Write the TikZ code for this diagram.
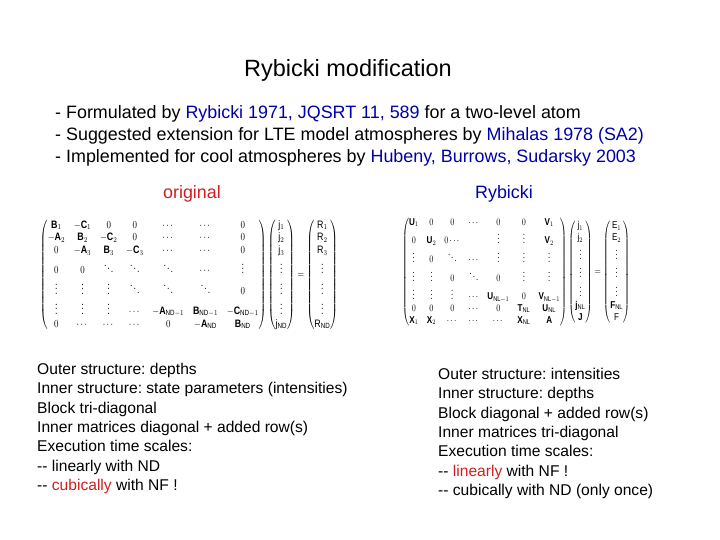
\documentclass[tikz,border=0pt]{standalone}
\usepackage{amsmath}
\usepackage{fontspec}
\setmainfont{Liberation Sans}
\usepackage{graphicx}
\definecolor{rblue}{RGB}{0,0,170}
\definecolor{rred}{RGB}{210,30,30}
\newcommand{\Bf}[1]{\mathbf{#1}}
\frenchspacing
\begin{document}
\begin{tikzpicture}[x=1pt,y=-1pt,
  txt/.style={anchor=west,inner sep=0pt,font=\fontsize{17.9pt}{20pt}\selectfont},
  body/.style={anchor=north west,inner sep=0pt,align=left,font=\fontsize{15.6pt}{19.3pt}\selectfont}]
\useasboundingbox (0,0) rectangle (720,540);
\node[inner sep=0pt,font=\fontsize{23.5pt}{26pt}\selectfont] (title) at (348,70) {Rybicki modification};
\node[txt] (b1) at (55,114) {- Formulated by \textcolor{rblue}{Rybicki 1971, JQSRT 11, 589} for a two-level atom};
\node[txt] (b2) at (55,136) {- Suggested extension for LTE model atmospheres by \textcolor{rblue}{Mihalas 1978 (SA2)}};
\node[txt] (b3) at (55,158) {- Implemented for cool atmospheres by \textcolor{rblue}{Hubeny, Burrows, Sudarsky 2003}};
\node[inner sep=0pt,text=rred,font=\fontsize{17.9pt}{20pt}\selectfont] (orig) at (192,194) {original};
\node[inner sep=0pt,text=rblue,font=\fontsize{17.9pt}{20pt}\selectfont] (ryb) at (504,194) {Rybicki};
\node[inner sep=0pt] (m1) at (189,275) {\resizebox*{298pt}{112pt}{$
\begin{pmatrix}
\Bf B_1 & -\Bf C_1 & 0 & 0 & \cdots & \cdots & 0\\
-\Bf A_2 & \Bf B_2 & -\Bf C_2 & 0 & \cdots & \cdots & 0\\
0 & -\Bf A_3 & \Bf B_3 & -\Bf C_3 & \cdots & \cdots & 0\\
0 & 0 & \ddots & \ddots & \ddots & \cdots & \vdots\\
\vdots & \vdots & \vdots & \ddots & \ddots & \ddots & 0\\
\vdots & \vdots & \vdots & \cdots & -\Bf A_{\mathrm{ND}-1} & \Bf B_{\mathrm{ND}-1} & -\Bf C_{\mathrm{ND}-1}\\
0 & \cdots & \cdots & \cdots & 0 & -\Bf A_{\mathrm{ND}} & \Bf B_{\mathrm{ND}}
\end{pmatrix}
\begin{pmatrix}\mathrm{j}_1\\ \mathrm{j}_2\\ \mathrm{j}_3\\ \vdots\\ \vdots\\ \vdots\\ \mathrm{j}_{\mathrm{ND}}\end{pmatrix}
=
\begin{pmatrix}\mathrm{R}_1\\ \mathrm{R}_2\\ \mathrm{R}_3\\ \vdots\\ \vdots\\ \vdots\\ \mathrm{R}_{\mathrm{ND}}\end{pmatrix}
$}};
\node[inner sep=0pt] (m2) at (516,272) {\resizebox*{228pt}{110pt}{$
\begin{pmatrix}
\Bf U_1 & 0 & 0 & \cdots & 0 & 0 & \Bf V_1\\
0 & \Bf U_2 & 0\cdots & & \vdots & \vdots & \Bf V_2\\
\vdots & 0 & \ddots & \cdots & \vdots & \vdots & \vdots\\
\vdots & \vdots & 0 & \ddots & 0 & \vdots & \vdots\\
\vdots & \vdots & \vdots & \cdots & \Bf U_{\mathrm{NL}-1} & 0 & \Bf V_{\mathrm{NL}-1}\\
0 & 0 & 0 & \cdots & 0 & \Bf T_{\mathrm{NL}} & \Bf U_{\mathrm{NL}}\\
\Bf X_1 & \Bf X_2 & \cdots & \cdots & \cdots & \Bf X_{\mathrm{NL}} & \Bf A
\end{pmatrix}
\begin{pmatrix}\mathrm{j}_1\\ \mathrm{j}_2\\ \vdots\\ \vdots\\ \vdots\\ \mathbf{j}_{\mathrm{NL}}\\ \mathbf{J}\end{pmatrix}
=
\begin{pmatrix}\mathrm{E}_1\\ \mathrm{E}_2\\ \vdots\\ \vdots\\ \vdots\\ \mathbf{F}_{\mathrm{NL}}\\ \mathrm{F}\end{pmatrix}
$}};
\node[body] (left) at (37,363) {Outer structure: depths\\Inner structure: state parameters (intensities)\\Block tri-diagonal\\Inner matrices diagonal + added row(s)\\Execution time scales:\\-{}- linearly with ND\\-{}- \textcolor{rred}{cubically} with NF !};
\node[body] (right) at (438,368) {Outer structure: intensities\\Inner structure: depths\\Block diagonal + added row(s)\\Inner matrices tri-diagonal\\Execution time scales:\\-{}- \textcolor{rred}{linearly} with NF !\\-{}- cubically with ND (only once)};
\end{tikzpicture}
\end{document}
